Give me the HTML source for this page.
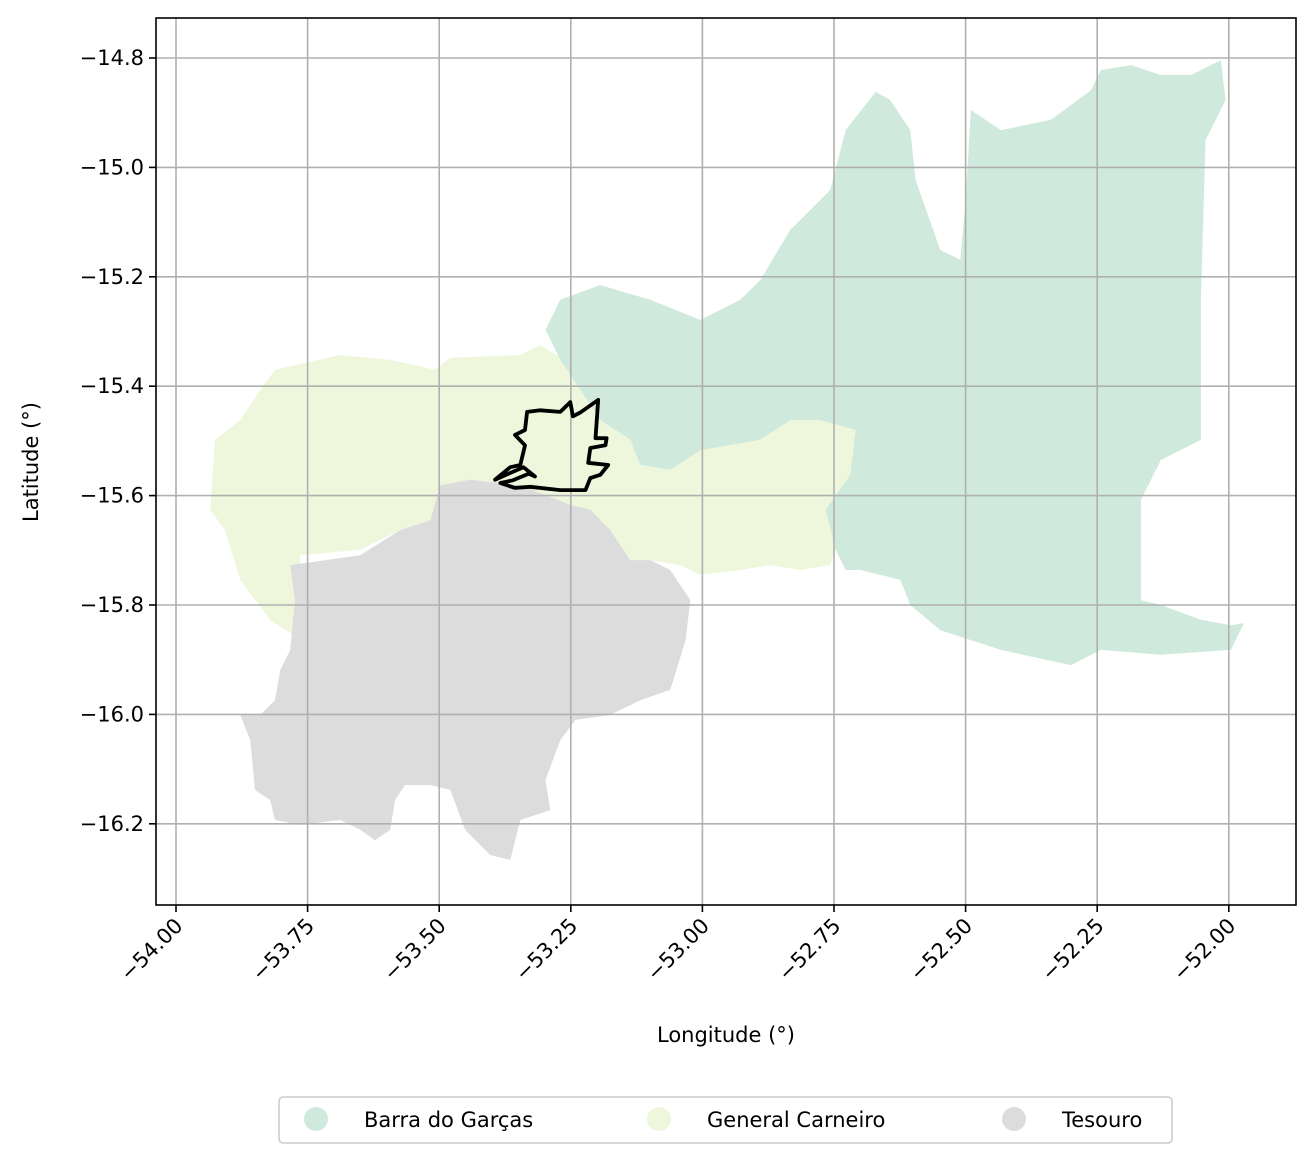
<!DOCTYPE html>
<html><head><meta charset="utf-8"><style>
body{margin:0;background:#fff;font-family:"Liberation Sans","DejaVu Sans",sans-serif}
svg text{font-family:"DejaVu Sans","Liberation Sans",sans-serif;font-size:21px;fill:#000}
</style></head><body>
<svg id="c" width="1314" height="1163"></svg>
<script>
const xTicks=[-54,-53.75,-53.5,-53.25,-53,-52.75,-52.5,-52.25,-52];
const xTickLabels=["\u221254.00","\u221253.75","\u221253.50","\u221253.25","\u221253.00","\u221252.75","\u221252.50","\u221252.25","\u221252.00"];
const yTicks=[-14.8,-15.0,-15.2,-15.4,-15.6,-15.8,-16.0,-16.2];
const yTickLabels=["\u221214.8","\u221215.0","\u221215.2","\u221215.4","\u221215.6","\u221215.8","\u221216.0","\u221216.2"];
const regionNames=["Barra do Garças","General Carneiro","Tesouro"];
const regionColors=["#cfeadd","#eef7dc","#dcdcdc"];
const barraLon=[-53.298,-53.270,-53.194,-53.099,-53.004,-52.928,-52.890,-52.833,-52.757,-52.728,-52.671,-52.643,-52.605,-52.595,-52.548,-52.510,-52.500,-52.490,-52.433,-52.338,-52.262,-52.243,-52.186,-52.129,-52.072,-52.015,-52.006,-52.044,-52.053,-52.053,-52.129,-52.167,-52.167,-52.129,-52.053,-51.996,-51.971,-51.996,-52.129,-52.243,-52.300,-52.433,-52.548,-52.605,-52.624,-52.700,-52.728,-52.747,-52.766,-52.719,-52.709,-52.776,-52.833,-52.890,-53.004,-53.061,-53.118,-53.137,-53.194,-53.232,-53.270];
const barraLat=[-15.297,-15.242,-15.215,-15.242,-15.279,-15.242,-15.206,-15.114,-15.041,-14.932,-14.862,-14.877,-14.932,-15.023,-15.151,-15.169,-15.060,-14.895,-14.932,-14.913,-14.859,-14.822,-14.813,-14.831,-14.831,-14.804,-14.877,-14.950,-15.242,-15.498,-15.535,-15.608,-15.791,-15.800,-15.827,-15.837,-15.833,-15.882,-15.891,-15.882,-15.910,-15.882,-15.846,-15.800,-15.754,-15.736,-15.736,-15.699,-15.626,-15.562,-15.480,-15.462,-15.462,-15.498,-15.517,-15.553,-15.544,-15.498,-15.462,-15.407,-15.352];
const carneiroLon=[-53.935,-53.926,-53.878,-53.840,-53.812,-53.688,-53.593,-53.508,-53.479,-53.346,-53.308,-53.260,-53.232,-53.194,-53.137,-53.118,-53.061,-53.004,-52.890,-52.833,-52.776,-52.709,-52.719,-52.766,-52.747,-52.757,-52.814,-52.871,-52.928,-53.004,-53.042,-53.099,-53.137,-53.175,-53.213,-53.251,-53.308,-53.384,-53.498,-53.517,-53.574,-53.650,-53.764,-53.764,-53.821,-53.878,-53.907];
const carneiroLat=[-15.626,-15.498,-15.462,-15.407,-15.370,-15.343,-15.352,-15.370,-15.348,-15.343,-15.325,-15.352,-15.407,-15.462,-15.498,-15.544,-15.553,-15.517,-15.498,-15.462,-15.462,-15.480,-15.562,-15.626,-15.699,-15.727,-15.736,-15.727,-15.736,-15.745,-15.727,-15.718,-15.718,-15.663,-15.626,-15.617,-15.599,-15.581,-15.590,-15.645,-15.663,-15.699,-15.709,-15.864,-15.827,-15.754,-15.663];
const tesouroLon=[-53.783,-53.650,-53.574,-53.517,-53.498,-53.441,-53.346,-53.251,-53.213,-53.175,-53.137,-53.099,-53.061,-53.023,-53.032,-53.061,-53.118,-53.175,-53.241,-53.270,-53.298,-53.289,-53.346,-53.365,-53.403,-53.451,-53.479,-53.517,-53.565,-53.584,-53.593,-53.622,-53.650,-53.688,-53.764,-53.812,-53.821,-53.850,-53.859,-53.878,-53.840,-53.812,-53.802,-53.783,-53.774];
const tesouroLat=[-15.727,-15.709,-15.663,-15.645,-15.581,-15.571,-15.581,-15.617,-15.626,-15.663,-15.718,-15.718,-15.736,-15.791,-15.864,-15.955,-15.974,-16.001,-16.010,-16.047,-16.120,-16.175,-16.193,-16.266,-16.257,-16.211,-16.138,-16.129,-16.129,-16.157,-16.211,-16.230,-16.211,-16.193,-16.202,-16.193,-16.157,-16.138,-16.047,-16.001,-16.001,-15.974,-15.919,-15.882,-15.791];
const outlineLon=[-53.394,-53.365,-53.346,-53.337,-53.356,-53.337,-53.333,-53.308,-53.270,-53.251,-53.246,-53.232,-53.198,-53.203,-53.182,-53.184,-53.213,-53.217,-53.179,-53.194,-53.213,-53.222,-53.270,-53.327,-53.356,-53.384,-53.360,-53.330,-53.318,-53.340];
const outlineLat=[-15.571,-15.548,-15.544,-15.508,-15.489,-15.480,-15.447,-15.444,-15.447,-15.429,-15.455,-15.448,-15.425,-15.495,-15.495,-15.508,-15.513,-15.540,-15.544,-15.562,-15.568,-15.590,-15.590,-15.584,-15.586,-15.577,-15.572,-15.560,-15.565,-15.548];
const L=156,R=1296,T=18,B=905;
const X=v=>176+(v+54)*526.4;
const Y=v=>58+(-14.8-v)*547;
const NS="http://www.w3.org/2000/svg";
const svg=document.getElementById('c');
function mk(t,a,p){const e=document.createElementNS(NS,t);for(const k in a)e.setAttribute(k,a[k]);(p||svg).appendChild(e);return e;}
function pts(lo,la){return lo.map((v,i)=>X(v).toFixed(1)+","+Y(la[i]).toFixed(1)).join(" ");}
const polys=[[barraLon,barraLat],[carneiroLon,carneiroLat],[tesouroLon,tesouroLat]];
[1,0,2].forEach(i=>{const p=mk('polygon',{points:pts(polys[i][0],polys[i][1]),fill:regionColors[i]});

});
xTicks.forEach((v,i)=>{const x=X(v);
const g=mk('line',{x1:x,x2:x,y1:T,y2:B,stroke:'#b0b0b0','stroke-width':1.6});

mk('line',{x1:x,x2:x,y1:B,y2:B+7,stroke:'#000','stroke-width':1.6});
const t=mk('text',{x:x+8,y:B+22,'text-anchor':'end',transform:`rotate(-45 ${x+8} ${B+22})`});
t.textContent=xTickLabels[i];});
yTicks.forEach((v,i)=>{const y=Y(v);
const g=mk('line',{x1:L,x2:R,y1:y,y2:y,stroke:'#b0b0b0','stroke-width':1.6});

mk('line',{x1:L-7,x2:L,y1:y,y2:y,stroke:'#000','stroke-width':1.6});
const t=mk('text',{x:L-12,y:y+7,'text-anchor':'end'});
t.textContent=yTickLabels[i];});
const o=mk('polygon',{points:pts(outlineLon,outlineLat),fill:'none',stroke:'#000','stroke-width':3.8,'stroke-linejoin':'round'});

const fr=mk('rect',{x:L,y:T,width:R-L,height:B-T,fill:'none',stroke:'#000','stroke-width':1.6});

const xl=mk('text',{x:726,y:1042,'text-anchor':'middle'});xl.textContent='Longitude (°)';

const yl=mk('text',{x:38,y:462,'text-anchor':'middle',transform:'rotate(-90 38 462)'});yl.textContent='Latitude (°)';

const lg=mk('rect',{x:279,y:1097,width:893,height:46,rx:4,fill:'#fff',stroke:'#ccc','stroke-width':1.6});

const lx=[316,659,1014];
regionNames.forEach((n,i)=>{
const c=mk('circle',{cx:lx[i],cy:1119,r:12,fill:regionColors[i]});

const t=mk('text',{x:lx[i]+48,y:1127});t.textContent=n;
});
</script>
</body></html>
